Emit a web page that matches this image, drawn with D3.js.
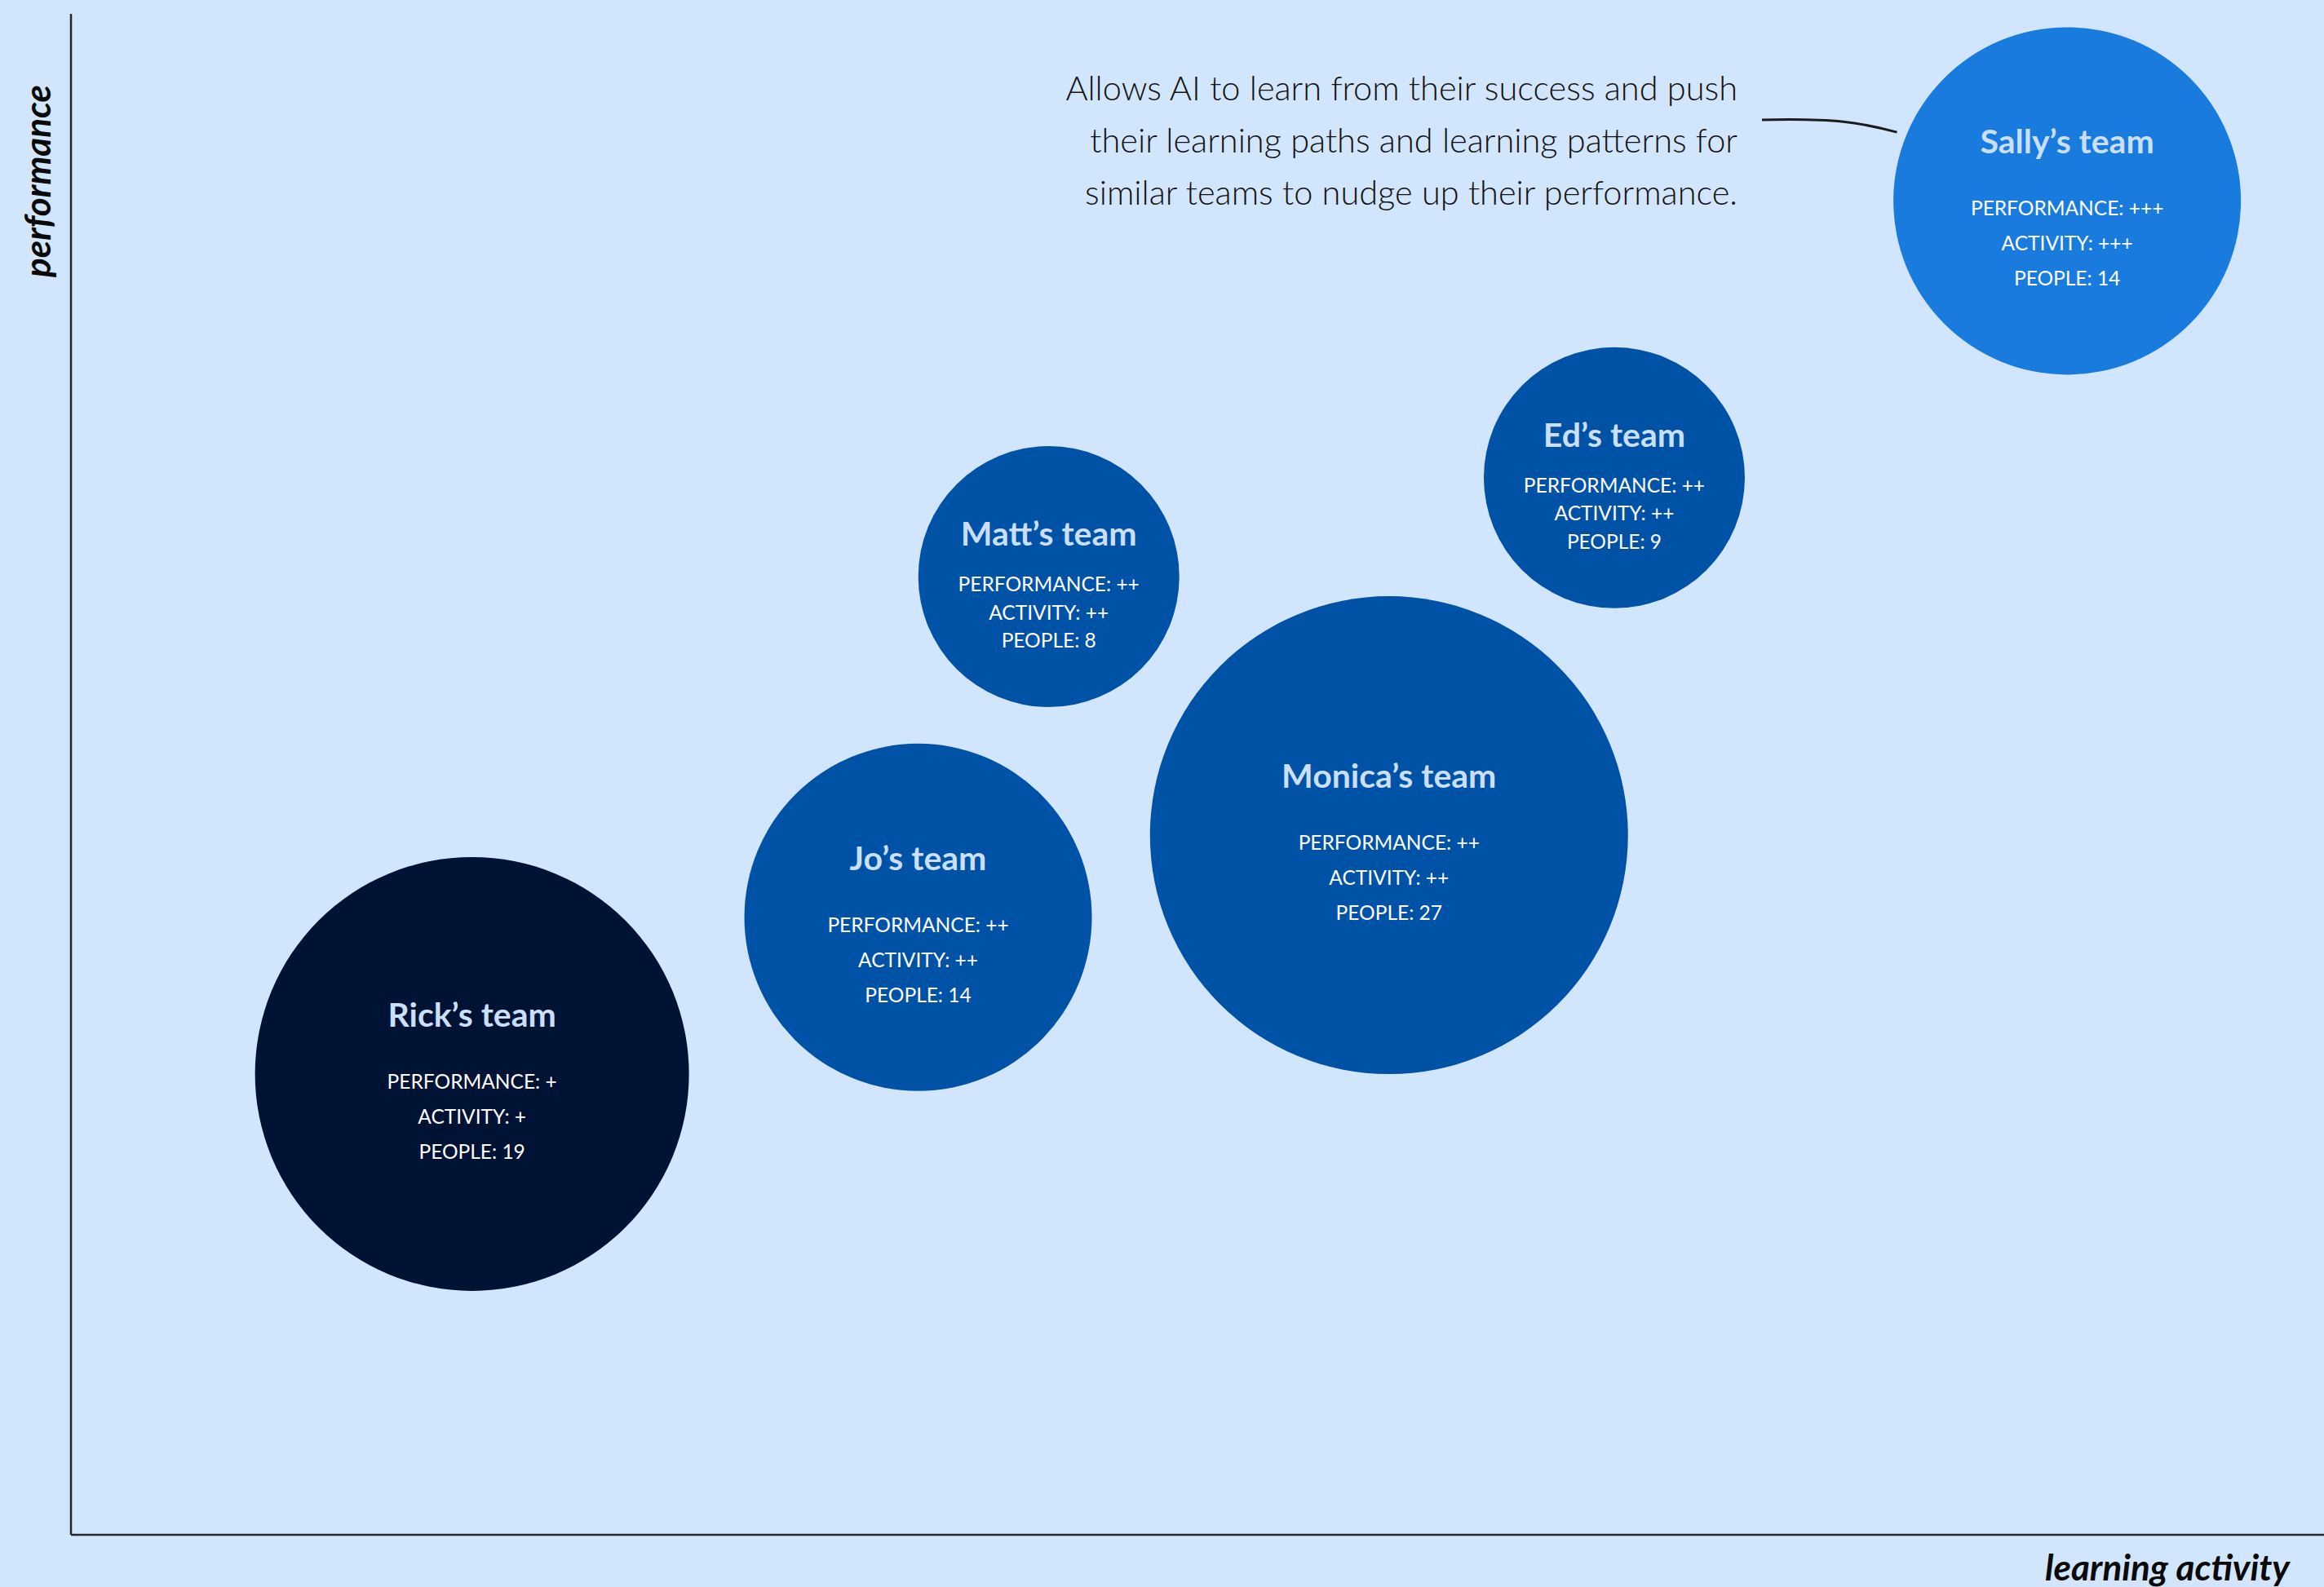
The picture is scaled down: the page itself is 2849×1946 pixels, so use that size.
<!DOCTYPE html>
<meta charset="utf-8">
<style>
  body { margin: 0; background: #d1e5fd; }
  .axis-line { stroke: #24262b; stroke-width: 2.5; fill: none; }
  .axis-title { font-family: Lato, "Open Sans", sans-serif; font-style: italic; font-weight: bold; font-size: 44px; fill: #0a0a0a; }
  .team-name { font-family: Lato, "Open Sans", sans-serif; font-weight: bold; font-size: 41px; fill: #c9dffa; text-anchor: middle; }
  .team-stat { font-family: Lato, "Open Sans", sans-serif; font-size: 24.5px; fill: #ffffff; text-anchor: middle; }
  .note { font-family: Lato, "Open Sans", sans-serif; font-weight: 300; font-size: 41.5px; fill: #111111; text-anchor: end; }
</style>
<body>
<script src="https://d3js.org/d3.v7.min.js"></script>
<script>
// teams, in drawing order
var teams = ["Rick’s team", "Jo’s team", "Matt’s team", "Monica’s team", "Ed’s team", "Sally’s team"];
var learningActivity = [17.8, 37.6, 43.4, 58.5, 68.5, 88.6];   // x, 0-100
var performance = [30.3, 40.6, 63.0, 46.0, 69.5, 87.7];        // y, 0-100
var people = [19, 14, 8, 27, 9, 14];
var perfRating = ["+", "++", "++", "++", "++", "+++"];
var activityRating = ["+", "++", "++", "++", "++", "+++"];

var noteLines = [
  "Allows AI to learn from their success and push",
  "their learning paths and learning patterns for",
  "similar teams to nudge up their performance."
];
var noteTeam = "Sally’s team";

var W = 2849, H = 1946;
var margin = { left: 87, right: 0, top: 17, bottom: 64 };

var x = d3.scaleLinear().domain([0, 100]).range([margin.left, W - margin.right]);
var y = d3.scaleLinear().domain([0, 100]).range([H - margin.bottom, margin.top]);

// bubble size from head count
var r = d3.scaleLinear()
    .domain([9, 14, 19, 27])
    .range([160, 213, 266, 293])
    .clamp(true);

var color = d3.scaleOrdinal()
    .domain(["+", "++", "+++"])
    .range(["#001334", "#0052a6", "#1a7bde"]);

var data = teams.map(function(t, i) {
  return {
    team: t,
    activity: learningActivity[i],
    performance: performance[i],
    people: people[i],
    perf: perfRating[i],
    act: activityRating[i]
  };
});

var svg = d3.select("body").append("svg")
    .attr("width", W)
    .attr("height", H);

svg.append("rect")
    .attr("width", W)
    .attr("height", H)
    .attr("fill", "#d1e5fd");

// axes: plain lines, no ticks
svg.append("line")
    .attr("class", "axis-line")
    .attr("x1", x(0)).attr("x2", x(0))
    .attr("y1", y(100)).attr("y2", y(0));

svg.append("line")
    .attr("class", "axis-line")
    .attr("x1", x(0)).attr("x2", x(100))
    .attr("y1", y(0)).attr("y2", y(0));

svg.append("text")
    .attr("class", "axis-title")
    .attr("transform", "translate(62,222) rotate(-90)")
    .attr("text-anchor", "middle")
    .text("performance");

svg.append("text")
    .attr("class", "axis-title")
    .attr("x", 2807)
    .attr("y", 1938)
    .attr("text-anchor", "end")
    .text("learning activity");

var node = svg.selectAll("g.team")
    .data(data)
    .enter()
    .append("g")
    .attr("class", "team")
    .attr("transform", function(d) { return "translate(" + x(d.activity) + "," + y(d.performance) + ")"; });

node.append("circle")
    .attr("r", function(d) { return r(d.people); })
    .attr("fill", function(d) { return color(d.perf); });

node.append("text")
    .attr("class", "team-name")
    .attr("y", function(d) { return r(d.people) > 190 ? -58 : -38; })
    .text(function(d) { return d.team; });

node.each(function(d) {
  var g = d3.select(this);
  var big = r(d.people) > 190;
  var step = big ? 43 : 34.5;
  var lines = ["PERFORMANCE: " + d.perf, "ACTIVITY: " + d.act, "PEOPLE: " + d.people];
  lines.forEach(function(l, i) {
    g.append("text")
      .attr("class", "team-stat")
      .attr("y", 18 + i * step)
      .text(l);
  });
});

// annotation
var noteRight = 2130;
svg.selectAll("text.note")
    .data(noteLines)
    .enter()
    .append("text")
    .attr("class", "note")
    .attr("x", noteRight)
    .attr("y", function(d, i) { return 123 + i * 64; })
    .text(function(d) { return d; });

var target = data.filter(function(d) { return d.team === noteTeam; })[0];
var tx = x(target.activity), ty = y(target.performance), tr = r(target.people) + 12;
var ang = 202 * Math.PI / 180;
var ex = tx + tr * Math.cos(ang), ey = ty + tr * Math.sin(ang);
var sx = noteRight + 30, sy = 147;

svg.append("path")
    .attr("d", "M" + sx + "," + sy + " C" + (sx + 90) + "," + (sy - 2) + " " + (ex - 45) + "," + (ey - 12) + " " + ex + "," + ey)
    .attr("fill", "none")
    .attr("stroke", "#1c1c1c")
    .attr("stroke-width", 3);
</script>
</body>
